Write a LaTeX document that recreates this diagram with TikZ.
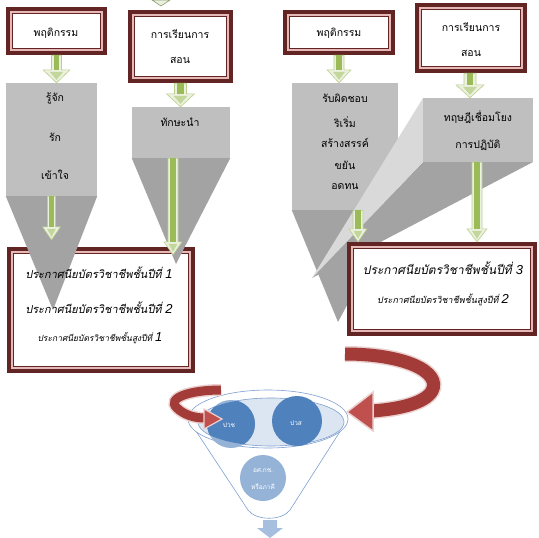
\documentclass[tikz,border=0pt]{standalone}
\usepackage{fontspec}
\setmainfont[Script=Thai]{Loma}
\newfontfamily\thaislant[Script=Thai,FakeSlant=0.2]{Loma}
\newfontfamily\digitfont{Liberation Sans}
\usetikzlibrary{calc}

\definecolor{frameout}{HTML}{632523}
\definecolor{framepink}{HTML}{E6B9B8}
\definecolor{funlight}{HTML}{BFBFBF}
\definecolor{fundark}{HTML}{A3A3A3}
\definecolor{funside}{HTML}{D9D9D9}
\definecolor{arrgreen}{HTML}{9BBB59}
\definecolor{arrpale}{HTML}{EBF1DE}
\definecolor{ribbon}{HTML}{A33B38}
\definecolor{ribbonhead}{HTML}{C0504D}
\definecolor{ribbonedge}{HTML}{EAD1D0}
\definecolor{cupline}{HTML}{7F9FCF}
\definecolor{cupfill}{HTML}{DCE6F2}
\definecolor{balldark}{HTML}{4F81BD}
\definecolor{balllite}{HTML}{95B3D7}
\definecolor{downblue}{HTML}{A7BFDE}

\newcommand{\digitit}[1]{{\fontsize{13}{13}\selectfont\digitfont\itshape #1}}

% block arrow pointing down: start, end, shaft half width, head half width
\newcommand{\greenarrow}[4]{%
  \filldraw[fill=arrpale, draw=arrgreen!70, line width=0.6pt] let \p1=(#1), \p2=(#2) in
    (\x1-#3,\y1) -- (\x1+#3,\y1) -- (\x1+#3,\y2+13pt) -- (\x1+#4,\y2+13pt) -- (\x1,\y2)
    -- (\x1-#4,\y2+13pt) -- (\x1-#3,\y2+13pt) -- cycle;
  \fill[arrgreen] let \p1=(#1), \p2=(#2) in
    (\x1-#3*0.55,\y1) rectangle (\x1+#3*0.55,\y2+13pt);
  \fill[arrgreen!60] let \p1=(#1), \p2=(#2) in
    (\x1-#4*0.5,\y2+11pt) -- (\x1+#4*0.5,\y2+11pt) -- (\x1,\y2+3pt) -- cycle;
}

\begin{document}
\begin{tikzpicture}[x=1pt, y=-1pt,
  framebox/.style={fill=frameout, inner sep=0pt, path picture={
    \fill[framepink] ([shift={(4pt,-4pt)}]path picture bounding box.north west) rectangle ([shift={(-4pt,4pt)}]path picture bounding box.south east);
    \fill[frameout] ([shift={(6pt,-6pt)}]path picture bounding box.north west) rectangle ([shift={(-6pt,6pt)}]path picture bounding box.south east);
    \fill[white] ([shift={(7pt,-7pt)}]path picture bounding box.north west) rectangle ([shift={(-7pt,7pt)}]path picture bounding box.south east);}},
  funrect/.style={fill=funlight, inner sep=0pt},
  thaitext/.style={inner sep=0pt, font=\fontsize{10.5}{12}\selectfont},
  twoline/.style={inner sep=0pt, align=center, font=\fontsize{10.5}{25}\selectfont},
  certtext/.style={inner sep=0pt, font=\thaislant\fontsize{11}{13}\selectfont},
  certsmall/.style={inner sep=0pt, font=\thaislant\fontsize{8.5}{10}\selectfont},
  ball/.style={circle, inner sep=0pt, minimum size=#1},
  balltext/.style={inner sep=0pt, text=white, align=center, font=\fontsize{6.5}{17}\selectfont},
  band/.style={draw=ribbon, line width=#1, preaction={draw=ribbonedge, line width=#1+3pt}}
]
\useasboundingbox (0,0) rectangle (539,538);

% Top boxes
\node[framebox, minimum width=101pt, minimum height=48pt] (beh1) at (56.5,31) {};
\node[thaitext] (beh1t) at (56,33) {พฤติกรรม};
\node[framebox, minimum width=105pt, minimum height=73pt] (teach1) at (180.5,46.5) {};
\node[twoline] (teach1t) at (180,47) {การเรียนการ\\สอน};
\node[framebox, minimum width=112pt, minimum height=45pt] (beh2) at (339,32.5) {};
\node[thaitext] (beh2t) at (339,33) {พฤติกรรม};
\node[framebox, minimum width=112pt, minimum height=70pt] (teach2) at (471,38) {};
\node[twoline] (teach2t) at (471,40) {การเรียนการ\\สอน};

% Arrow coming from above
\coordinate (intop) at (161,0);
\filldraw[fill=arrpale, draw=arrgreen!50!gray, line width=0.6pt] ([xshift=-9pt]intop) -- ([xshift=9pt]intop) -- ([yshift=-6pt]intop) -- cycle;

% Certificate box left (frame only)
\node[framebox, minimum width=188pt, minimum height=126pt] (cert1) at (101,310) {};

% Left funnels
\node[funrect, minimum width=91pt, minimum height=113pt] (fun1) at (51.5,139.5) {};
\fill[fundark] (fun1.south west) -- (fun1.south east) -- (53,310) -- cycle;
\node[funrect, minimum width=98pt, minimum height=51pt] (fun2) at (181,132.5) {};
\fill[fundark] (fun2.south west) -- (fun2.south east) -- (176,264) -- cycle;

\node[thaitext] (know) at (55,98) {รู้จัก};
\node[thaitext] (love) at (55,137) {รัก};
\node[thaitext] (underst) at (55,175) {เข้าใจ};
\node[thaitext] (skill) at (180,122) {ทักษะนำ};

\greenarrow{beh1.south}{fun1.north}{5pt}{13.5pt}
\greenarrow{teach1.south}{fun2.north}{6pt}{14pt}
\greenarrow{fun1.south}{[yshift=7pt]cert1.north}{4pt}{9pt}
\greenarrow{[xshift=-8pt]fun2.south}{[yshift=-8pt]cert1.north}{5pt}{9pt}

% Certificate texts left
\node[certtext] (cert1a) at (99,273) {ประกาศนียบัตรวิชาชีพชั้นปีที่ \digitit{1}};
\node[certtext] (cert1b) at (99,308) {ประกาศนียบัตรวิชาชีพชั้นปีที่ \digitit{2}};
\node[certsmall] (cert1c) at (100,338) {ประกาศนียบัตรวิชาชีพชั้นสูงปีที่ \digitit{1}};

% Right funnels
\node[funrect, minimum width=106pt, minimum height=127pt] (fun3) at (345,146.5) {};
\fill[fundark] (fun3.south west) -- (fun3.south east) -- (338,322) -- cycle;
\coordinate (apex4) at (312,278);
\fill[fundark] (423,162) -- (533,162) -- (apex4) -- cycle;
\fill[funside] (423,98) -- (423,162) -- (apex4) -- cycle;
\node[funrect, minimum width=110pt, minimum height=64pt] (fun4) at (478,130) {};

\node[thaitext] (resp) at (345,98) {รับผิดชอบ};
\node[thaitext] (init) at (345,122) {ริเริ่ม};
\node[thaitext] (creat) at (345,143) {สร้างสรรค์};
\node[thaitext] (dilig) at (345,165) {ขยัน};
\node[thaitext] (pati) at (345,187) {อดทน};
\node[thaitext] (theory) at (478,117) {ทฤษฎีเชื่อมโยง};
\node[thaitext] (practice) at (478,145) {การปฏิบัติ};

% Certificate box right
\node[framebox, minimum width=190pt, minimum height=94pt] (cert3) at (442,289) {};
\node[certtext, font=\thaislant\fontsize{12}{14}\selectfont] (cert3a) at (443,268) {ประกาศนียบัตรวิชาชีพชั้นปีที่ \digitit{3}};
\node[certsmall, font=\thaislant\fontsize{9}{11}\selectfont] (cert3b) at (443,300) {ประกาศนียบัตรวิชาชีพชั้นสูงปีที่ \digitit{2}};

\greenarrow{beh2.south}{fun3.north}{5pt}{12pt}
\greenarrow{[xshift=-1pt]teach2.south}{fun4.north}{6pt}{14pt}
\greenarrow{[xshift=13pt]fun3.south}{cert3.north}{5pt}{9pt}
\greenarrow{[xshift=-1pt]fun4.south}{cert3.north}{5pt}{10pt}

% Blue funnel
\draw[cupline, fill=white, line width=0.6pt] (188,419) -- (248,510) .. controls (256,521) and (282,521) .. (290,510) -- (348,419);
\draw[cupline, fill=white, line width=0.6pt] (268,419) ellipse [x radius=80, y radius=29];
\draw[cupline, fill=cupfill, line width=0.6pt] (271,422) ellipse [x radius=73, y radius=24];

\node[ball=48pt, fill=balllite] (pvc) at (231,424) {};
\begin{scope}
  \clip (271,422) ellipse [x radius=73, y radius=24];
  \fill[balldark] (pvc.center) circle [radius=24];
\end{scope}
\node[balltext] (pvct) at (229,425) {ปวช};
\node[ball=50pt, fill=balldark] (pvs) at (297,421) {};
\node[balltext] (pvst) at (296,423) {ปวส};
\node[ball=46pt, fill=balllite] (voc) at (263,478) {};
\node[balltext] (voct) at (263,479) {อศ.กช.\\หรือภาคี};

% Arrow out of funnel
\coordinate (cupend) at (270,520);
\fill[downblue] let \p1=(cupend) in (\x1-7pt,\y1) -- (\x1+7pt,\y1) -- (\x1+7pt,\y1-8pt) -- (\x1+13pt,\y1-8pt)
  -- (\x1,\y1-18pt) -- (\x1-13pt,\y1-8pt) -- (\x1-7pt,\y1-8pt) -- cycle;

% Curved arrows
\draw[band=13pt] (345,354) .. controls (405,354) and (442,372) .. (432,391) .. controls (425,403) and (400,409) .. (372,411);
\filldraw[fill=ribbonhead, draw=ribbonedge, line width=1.5pt] (373,392) -- (347,412) -- (373,431) -- cycle;
\draw[band=9pt] (221,390) .. controls (190,390) and (166,398) .. (177,408) .. controls (184,415) and (195,418) .. (204,418);
\filldraw[fill=ribbonhead, draw=ribbonedge, line width=1.2pt] (204,409) -- (222,419) -- (204,429) -- cycle;

\end{tikzpicture}
\end{document}
